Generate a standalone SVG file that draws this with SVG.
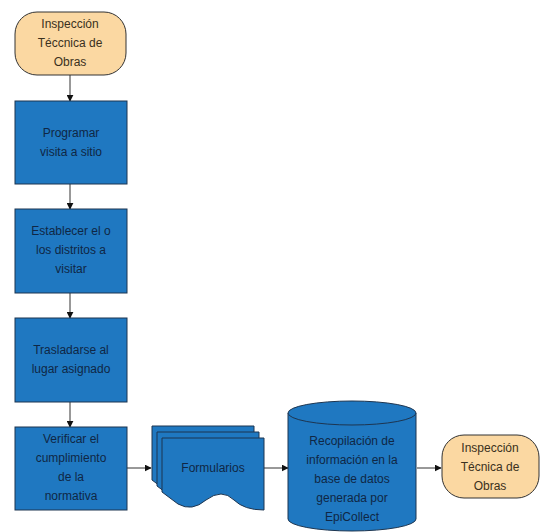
<svg xmlns="http://www.w3.org/2000/svg" width="541" height="532" viewBox="0 0 541 532">
<defs>
<marker id="ah" viewBox="0 0 10 10" refX="9" refY="5" markerWidth="7" markerHeight="7" orient="auto" markerUnits="userSpaceOnUse">
<path d="M0,0 L10,5 L0,10 z" fill="#111"/>
</marker>
<style>
.term{fill:#fbd8a2;stroke:#333;stroke-width:1}
.proc{fill:#1f78c1;stroke:#1d3550;stroke-width:1}
.t{font-family:"Liberation Sans",Arial,sans-serif;font-size:12px;text-anchor:middle}
.tb{fill:#0f2745}
.to{fill:#3a3020}
.c{stroke:#333;stroke-width:1;fill:none;marker-end:url(#ah)}
</style>
</defs>
<rect width="541" height="532" fill="#fff"/>
<g id="connectors">
<line class="c" x1="70" y1="75" x2="70" y2="101"/>
<line class="c" x1="70" y1="184" x2="70" y2="209"/>
<line class="c" x1="70" y1="293" x2="70" y2="318"/>
<line class="c" x1="70" y1="402" x2="70" y2="427"/>
<line class="c" x1="127" y1="468" x2="151" y2="468"/>
<line class="c" x1="264" y1="468" x2="288" y2="468"/>
<line class="c" x1="417" y1="468" x2="441" y2="468"/>
</g>
<g id="start">
<rect class="term" x="15" y="12" width="111" height="63" rx="22" ry="22"/>
<text class="t to" x="70" y="28">Inspección</text>
<text class="t to" x="70" y="47">Téccnica de</text>
<text class="t to" x="70" y="66">Obras</text>
</g>
<g id="programar">
<rect class="proc" x="15" y="101" width="112" height="83"/>
<text class="t tb" x="71" y="137">Programar</text>
<text class="t tb" x="71" y="156">visita a sitio</text>
</g>
<g id="establecer">
<rect class="proc" x="15" y="209" width="112" height="84"/>
<text class="t tb" x="71" y="235">Establecer el o</text>
<text class="t tb" x="71" y="254">los distritos a</text>
<text class="t tb" x="71" y="273">visitar</text>
</g>
<g id="trasladarse">
<rect class="proc" x="15" y="318" width="112" height="84"/>
<text class="t tb" x="71" y="354">Trasladarse al</text>
<text class="t tb" x="71" y="373">lugar asignado</text>
</g>
<g id="verificar">
<rect class="proc" x="15" y="427" width="112" height="83"/>
<text class="t tb" x="71" y="443">Verificar el</text>
<text class="t tb" x="71" y="462">cumplimiento</text>
<text class="t tb" x="71" y="481">de la</text>
<text class="t tb" x="71" y="500">normativa</text>
</g>
<g id="formularios">
<path class="proc" d="M152,426 H254 V498 Q234,498 224,488 Q212,476 196,488 Q182,500 168,492 Q160,486 152,480 Z"/>
<path class="proc" d="M157,432 H259 V504 Q239,504 229,494 Q217,482 201,494 Q187,506 173,498 Q165,492 157,486 Z"/>
<path class="proc" d="M162,438 H264 V510 Q244,510 234,500 Q222,488 206,500 Q192,512 178,504 Q170,498 162,492 Z"/>
<text class="t tb" x="213" y="472">Formularios</text>
</g>
<g id="recopilacion">
<path class="proc" d="M288,413 V519 A64,12 0 0 0 416,519 V413"/>
<ellipse class="proc" cx="352" cy="413" rx="64" ry="12"/>
<text class="t tb" x="352" y="445">Recopilación de</text>
<text class="t tb" x="352" y="464">información en la</text>
<text class="t tb" x="352" y="483">base de datos</text>
<text class="t tb" x="352" y="502">generada por</text>
<text class="t tb" x="352" y="521">EpiCollect</text>
</g>
<g id="end">
<rect class="term" x="442" y="435" width="97" height="63" rx="22" ry="22"/>
<text class="t to" x="490" y="452">Inspección</text>
<text class="t to" x="490" y="471">Técnica de</text>
<text class="t to" x="490" y="490">Obras</text>
</g>
</svg>
